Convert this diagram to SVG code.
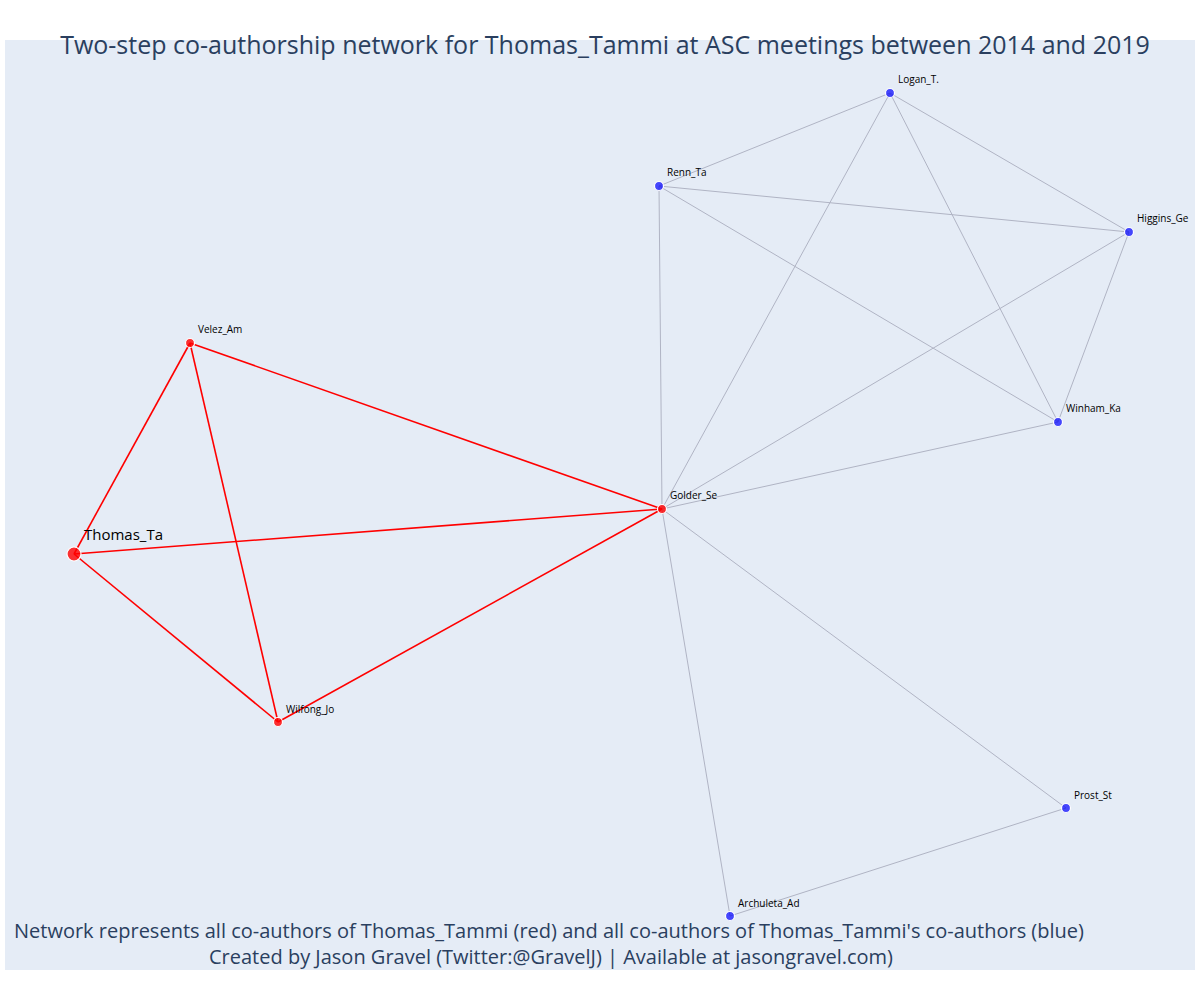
<svg xmlns="http://www.w3.org/2000/svg" width="1200" height="1000" viewBox="0 0 1200 1000">
<style>
.title{font-family:"Open Sans",sans-serif;font-size:25px;fill:#2a3f5f}
.foot{font-family:"Open Sans",sans-serif;font-size:20px;fill:#2a3f5f}
.lbl{font-family:"Open Sans",sans-serif;font-size:10px;fill:#000}
.red line{stroke:#ff0000;stroke-width:1.6}
.gray line{stroke:#b0b4c4;stroke-width:1}
.nr{fill:#ff0000;fill-opacity:0.8;stroke:#fff;stroke-width:1.2}
.nb{fill:#0000ff;fill-opacity:0.7;stroke:#fff;stroke-width:1.2}
</style>
<rect x="0" y="0" width="1200" height="1000" fill="#fff"/>
<rect x="5" y="40" width="1190" height="930" fill="#e5ecf6"/>
<text class="title" x="605" y="54" text-anchor="middle">Two-step co-authorship network for Thomas_Tammi at ASC meetings between 2014 and 2019</text>
<g id="connectors">
<g class="gray">
<line x1="662" y1="509" x2="659" y2="186"/>
<line x1="662" y1="509" x2="890" y2="93"/>
<line x1="662" y1="509" x2="1129" y2="232"/>
<line x1="662" y1="509" x2="1058" y2="422"/>
<line x1="662" y1="509" x2="1066" y2="808"/>
<line x1="662" y1="509" x2="730" y2="916"/>
<line x1="659" y1="186" x2="890" y2="93"/>
<line x1="659" y1="186" x2="1129" y2="232"/>
<line x1="659" y1="186" x2="1058" y2="422"/>
<line x1="890" y1="93" x2="1129" y2="232"/>
<line x1="890" y1="93" x2="1058" y2="422"/>
<line x1="1129" y1="232" x2="1058" y2="422"/>
<line x1="1066" y1="808" x2="730" y2="916"/>
</g>
<g class="red">
<line x1="74" y1="554" x2="190" y2="343"/>
<line x1="74" y1="554" x2="662" y2="509"/>
<line x1="74" y1="554" x2="278" y2="722"/>
<line x1="190" y1="343" x2="278" y2="722"/>
<line x1="190" y1="343" x2="662" y2="509"/>
<line x1="278" y1="722" x2="662" y2="509"/>
</g>
</g>
<g id="node-thomas"><circle class="nr" cx="74" cy="554" r="7"/><text x="84" y="540" style="font-family:'Open Sans',sans-serif;font-size:15px;fill:#000">Thomas_Ta</text></g>
<g id="node-velez"><circle class="nr" cx="190" cy="343" r="4.5"/><text class="lbl" x="198" y="333">Velez_Am</text></g>
<g id="node-wilfong"><circle class="nr" cx="278" cy="722" r="4.5"/><text class="lbl" x="286" y="713">Wilfong_Jo</text></g>
<g id="node-golder"><circle class="nr" cx="662" cy="509" r="4.5"/><text class="lbl" x="670" y="499">Golder_Se</text></g>
<g id="node-renn"><circle class="nb" cx="659" cy="186" r="4.5"/><text class="lbl" x="667" y="176">Renn_Ta</text></g>
<g id="node-logan"><circle class="nb" cx="890" cy="93" r="4.5"/><text class="lbl" x="898" y="83">Logan_T.</text></g>
<g id="node-higgins"><circle class="nb" cx="1129" cy="232" r="4.5"/><text class="lbl" x="1137" y="222">Higgins_Ge</text></g>
<g id="node-winham"><circle class="nb" cx="1058" cy="422" r="4.5"/><text class="lbl" x="1066" y="412">Winham_Ka</text></g>
<g id="node-prost"><circle class="nb" cx="1066" cy="808" r="4.5"/><text class="lbl" x="1074" y="799">Prost_St</text></g>
<g id="node-archuleta"><circle class="nb" cx="730" cy="916" r="4.5"/><text class="lbl" x="738" y="907">Archuleta_Ad</text></g>
<text class="foot" x="14" y="938">Network represents all co-authors of Thomas_Tammi (red) and all co-authors of Thomas_Tammi's co-authors (blue)</text>
<text class="foot" x="551" y="964" text-anchor="middle">Created by Jason Gravel (Twitter:@GravelJ) | Available at jasongravel.com)</text>
</svg>
